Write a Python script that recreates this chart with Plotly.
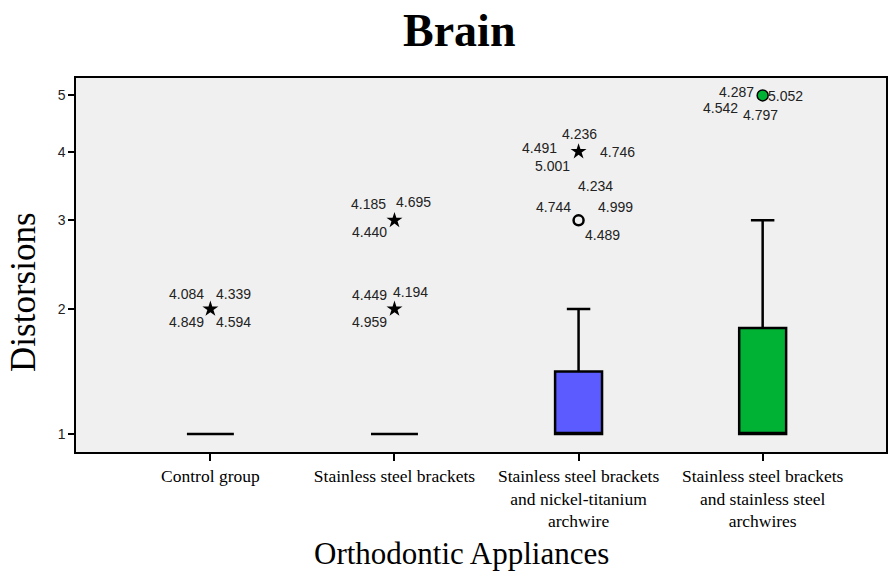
import numpy as np
import plotly.graph_objects as go

categories = ["Control group", "Stainless steel brackets",
              "Stainless steel brackets<br>and nickel-titanium<br>archwire",
              "Stainless steel brackets<br>and stainless steel<br>archwires"]
q1 = [1, 1, 1, 1]
median = [1, 1, 1, 1]
q3 = [1, 1, 1.45, 1.82]
lower = [1, 1, 1, 1]
upper = [1, 1, 2, 3]
box_colors = ["#f0f0f0", "#f0f0f0", "#5b5bff", "#00b233"]

# outliers: (category index, value, marker kind, case labels)
outlier_cat = [0, 1, 1, 2, 2, 3]
outlier_val = [2, 2, 3, 4, 3, 5]
outlier_kind = ["star", "star", "star", "star", "circle-open", "circle"]
outlier_labels = [
    ["4.084", "4.339", "4.849", "4.594"],
    ["4.449", "4.194", "4.959"],
    ["4.185", "4.695", "4.440"],
    ["4.236", "4.491", "4.746", "5.001"],
    ["4.234", "4.744", "4.999", "4.489"],
    ["4.287", "5.052", "4.542", "4.797"],
]
# pixel offsets of labels relative to marker (dx right, dy down)
label_offsets = [
    [(-24, -15), (23, -15), (-24, 13), (23, 13)],
    [(-25, -14), (16, -17), (-25, 13)],
    [(-26, -16), (19, -18), (-25, 12)],
    [(1, -18), (-39, -4), (39, 0), (-26, 14)],
    [(17, -34), (-25, -13), (37, -13), (24, 15)],
    [(-26, -3), (23, 1), (-42, 13), (-2, 20)],
]
ytick_vals = [1, 2, 3, 4, 5]

fig = go.Figure()
for i in range(len(categories)):
    fig.add_trace(go.Box(
        x=[i], q1=[q1[i] + 1], median=[median[i] + 1], q3=[q3[i] + 1],
        lowerfence=[lower[i] + 1], upperfence=[upper[i] + 1],
        fillcolor=box_colors[i], line=dict(color="black", width=2.5),
        width=0.255, whiskerwidth=0.5, boxpoints=False, showlegend=False,
        hoverinfo="skip"))

for k in range(len(outlier_cat)):
    kind = outlier_kind[k]
    if kind == "star":
        mk = dict(symbol="star", size=12, color="black")
    elif kind == "circle-open":
        mk = dict(symbol="circle-open", size=10, color="black", line=dict(width=2.5))
    else:
        mk = dict(symbol="circle", size=11, color="#00b233", line=dict(width=1.5, color="black"))
    fig.add_trace(go.Scatter(x=[outlier_cat[k]], y=[outlier_val[k] + 1], mode="markers",
                             marker=mk, showlegend=False, hoverinfo="skip"))
    for lab, (dx, dy) in zip(outlier_labels[k], label_offsets[k]):
        fig.add_annotation(x=outlier_cat[k], y=np.log10(outlier_val[k] + 1), text=lab,
                           showarrow=False, xshift=dx, yshift=-dy,
                           font=dict(family="Liberation Sans, Arial", size=14, color="#222"))

serif = "Liberation Serif, Times New Roman, serif"
fig.add_annotation(x=0.473, y=1.1257, xref="paper", yref="paper", text="<b>Brain</b>",
                   showarrow=False, xanchor="center", yanchor="middle",
                   font=dict(family=serif, size=46, color="black"))
fig.add_annotation(x=-0.0642, y=0.428, xref="paper", yref="paper", text="Distorsions",
                   textangle=-90, showarrow=False, xanchor="center", yanchor="middle",
                   font=dict(family=serif, size=35, color="black"))
fig.add_annotation(x=0.4765, y=-0.2727, xref="paper", yref="paper", text="Orthodontic Appliances",
                   showarrow=False, xanchor="center", yanchor="middle",
                   font=dict(family=serif, size=31, color="black"))

fig.update_layout(
    width=888, height=572,
    margin=dict(l=76, r=2, t=78, b=120, autoexpand=False),
    paper_bgcolor="white", plot_bgcolor="#f0f0f0",
    xaxis=dict(range=[-0.73, 3.67], tickvals=list(range(len(categories))), ticktext=categories,
               ticks="outside", ticklen=7, tickcolor="black", tickwidth=1.5, showgrid=False,
               zeroline=False, automargin=False,
               showline=True, linecolor="black", linewidth=1.5, mirror=True,
               tickfont=dict(family=serif, size=17.5, color="black")),
    yaxis=dict(type="log", range=[0.2756, 0.8027], tickvals=[v + 1 for v in ytick_vals],
               ticktext=[str(v) for v in ytick_vals], automargin=False,
               ticks="outside", ticklen=6, tickcolor="black", tickwidth=1.5, showgrid=False,
               zeroline=False,
               showline=True, linecolor="black", linewidth=1.5, mirror=True,
               tickfont=dict(family="Liberation Sans, Arial", size=14, color="#222")),
)
fig.write_html("out.html", config={"displayModeBar": False},
               post_script="document.body.style.margin='0';")
